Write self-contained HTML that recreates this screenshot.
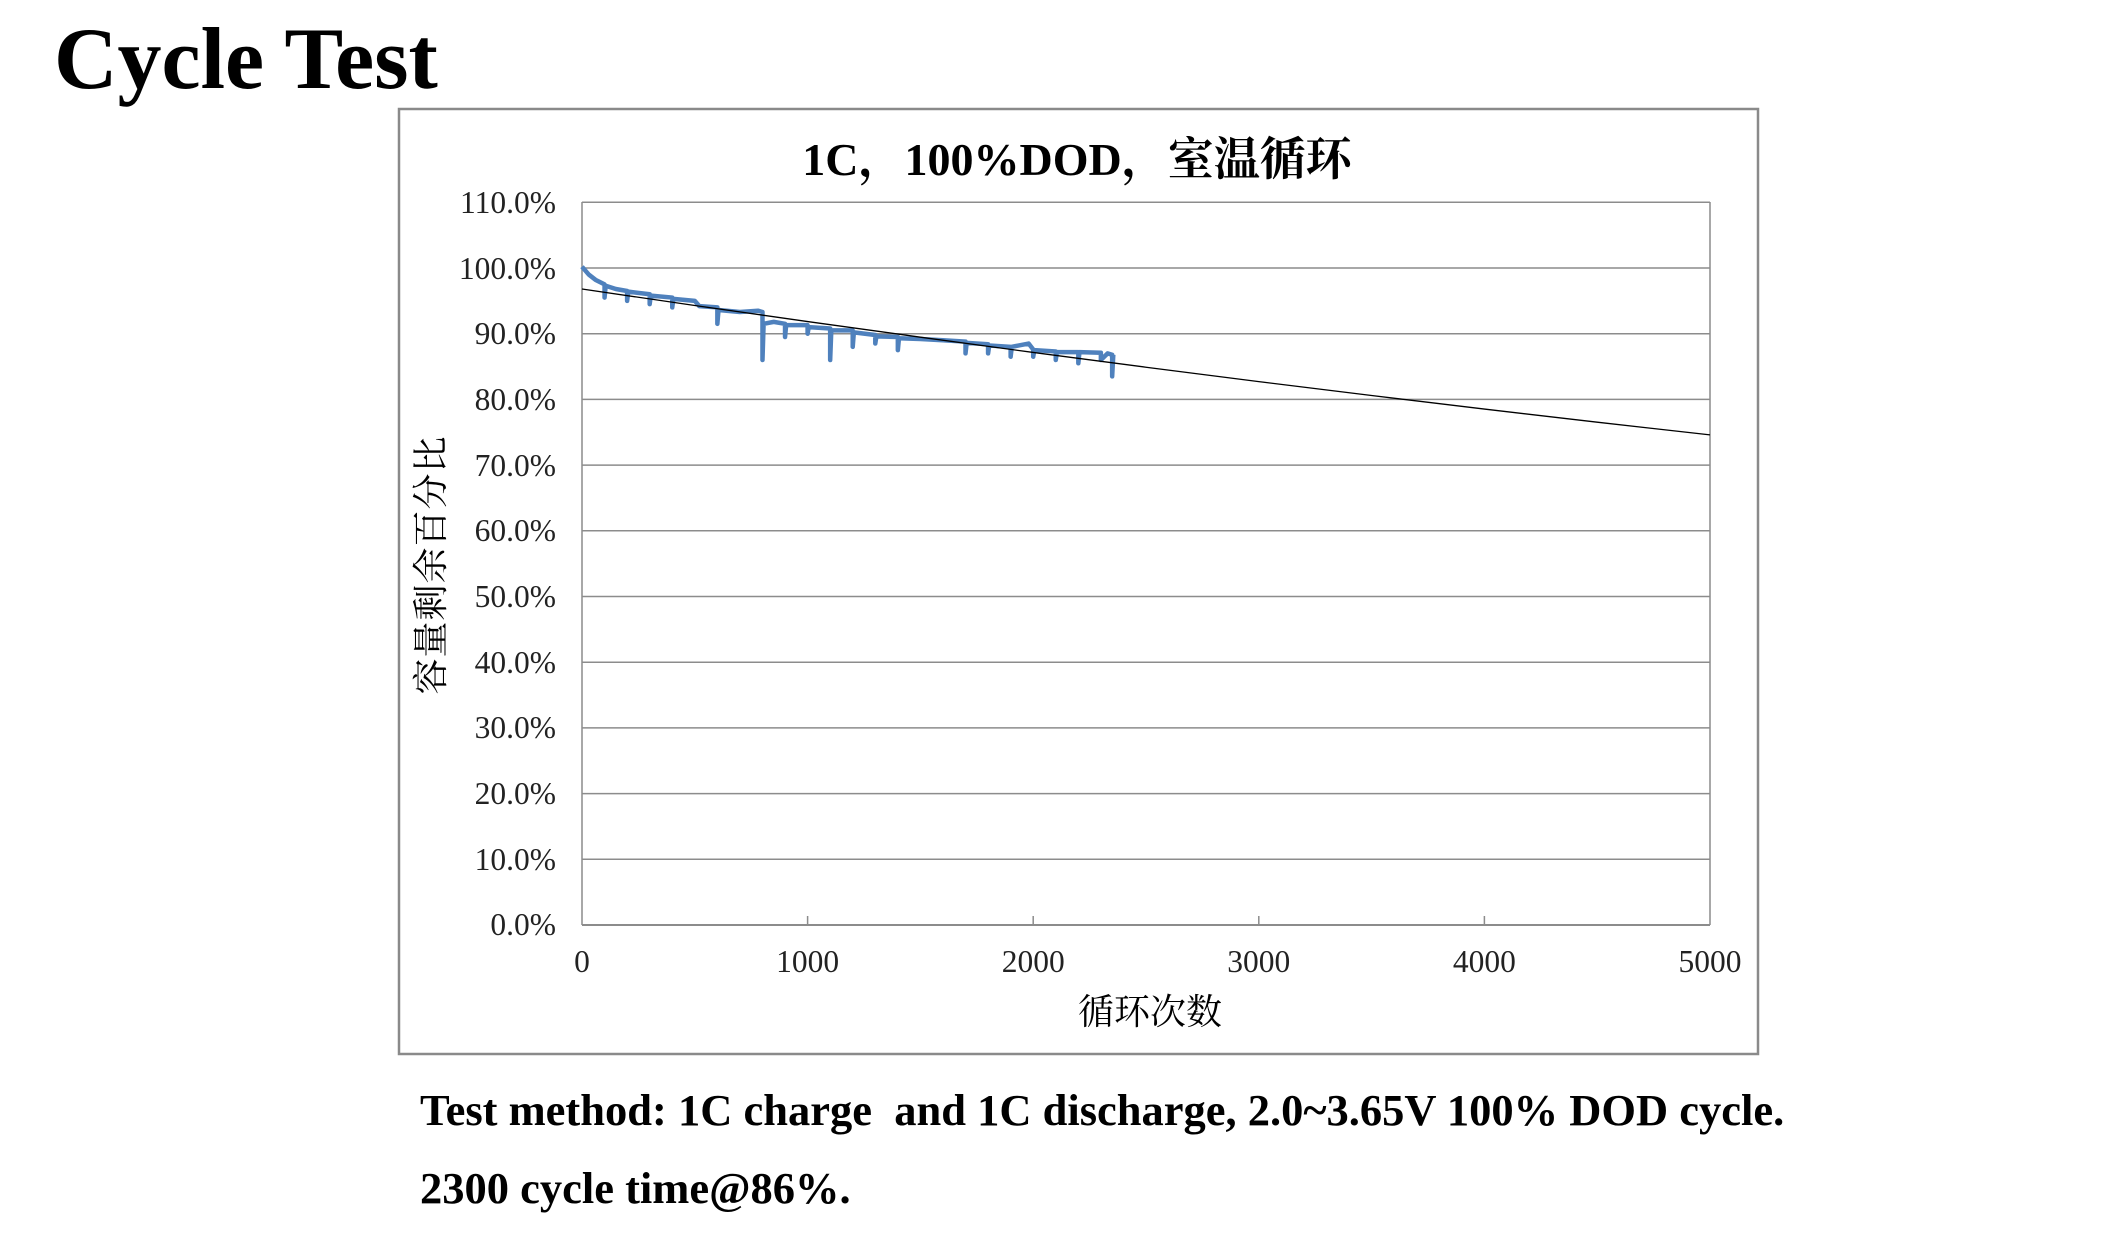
<!DOCTYPE html>
<html><head><meta charset="utf-8">
<style>
html,body{margin:0;padding:0;background:#fff;}
body{width:2116px;height:1242px;position:relative;overflow:hidden;font-family:"Liberation Serif","Noto Serif CJK SC",serif;}
.t{position:absolute;white-space:nowrap;}
</style></head><body>
<div class="t" style="left:54px;top:10px;font-size:88px;font-weight:bold;line-height:100px;">Cycle Test</div>
<svg width="2116" height="1242" style="position:absolute;left:0;top:0">
<rect x="399" y="109" width="1359" height="945" fill="#fff" stroke="#8a8a8a" stroke-width="2.5"/>
<g stroke="#8c8c8c" stroke-width="1.5">
<line x1="582" y1="202.3" x2="1710" y2="202.3"/>
<line x1="582" y1="268" x2="1710" y2="268"/>
<line x1="582" y1="333.7" x2="1710" y2="333.7"/>
<line x1="582" y1="399.4" x2="1710" y2="399.4"/>
<line x1="582" y1="465.1" x2="1710" y2="465.1"/>
<line x1="582" y1="530.8" x2="1710" y2="530.8"/>
<line x1="582" y1="596.5" x2="1710" y2="596.5"/>
<line x1="582" y1="662.2" x2="1710" y2="662.2"/>
<line x1="582" y1="727.9" x2="1710" y2="727.9"/>
<line x1="582" y1="793.6" x2="1710" y2="793.6"/>
<line x1="582" y1="859.3" x2="1710" y2="859.3"/>
<line x1="582" y1="202" x2="582" y2="925"/>
<line x1="1710" y1="202" x2="1710" y2="925"/>
<line x1="582" y1="925" x2="1710" y2="925" stroke-width="2"/>
<line x1="807.6" y1="925" x2="807.6" y2="916"/>
<line x1="1033.2" y1="925" x2="1033.2" y2="916"/>
<line x1="1258.8" y1="925" x2="1258.8" y2="916"/>
<line x1="1484.4" y1="925" x2="1484.4" y2="916"/>
</g>
<g transform="translate(582,925) scale(0.2256,-6.57)">
<polyline vector-effect="non-scaling-stroke" fill="none" stroke="#4f81bd" stroke-width="4.5" stroke-linejoin="round" points="0,100.2 30,99 60,98.2 100,97.5 100,95.5 105,97.3 150,96.8 200,96.5 200,95 205,96.4 300,96 300,94.5 305,95.8 400,95.5 400,94 405,95.3 500,95 520,94.2 600,94 600,91.5 605,93.6 700,93.3 780,93.5 800,93.3 800,86 805,91.5 850,91.8 900,91.5 900,89.5 905,91.3 1000,91.3 1000,90 1005,91 1100,90.8 1100,86 1105,90.5 1200,90.5 1200,88 1205,90.2 1300,89.8 1300,88.5 1305,89.6 1400,89.5 1400,87.5 1405,89.3 1500,89.2 1600,89 1700,88.8 1700,87 1705,88.6 1800,88.4 1800,87 1805,88.2 1900,88 1900,86.5 1905,88 1980,88.5 2000,87.6 2000,86.5 2005,87.5 2100,87.3 2100,86 2105,87.2 2200,87.2 2200,85.5 2205,87.2 2300,87.1 2300,86 2330,87 2350,86.8 2350,83.5 2355,86.8"/>
<polyline vector-effect="non-scaling-stroke" fill="none" stroke="#000" stroke-width="1.3" points="0,96.8 500,94.29 1000,91.85 1500,89.47 2000,87.15 2500,84.9 3000,82.71 3500,80.59 4000,78.53 4500,76.53 5000,74.6"/>
</g>
<g font-family="Liberation Serif, serif" font-size="31.5" text-anchor="end" fill="#222">
<text x="556" y="213">110.0%</text>
<text x="556" y="279">100.0%</text>
<text x="556" y="344">90.0%</text>
<text x="556" y="410">80.0%</text>
<text x="556" y="476">70.0%</text>
<text x="556" y="541">60.0%</text>
<text x="556" y="607">50.0%</text>
<text x="556" y="673">40.0%</text>
<text x="556" y="738">30.0%</text>
<text x="556" y="804">20.0%</text>
<text x="556" y="870">10.0%</text>
<text x="556" y="935">0.0%</text>
</g>
<g font-family="Liberation Serif, serif" font-size="31.5" text-anchor="middle" fill="#222">
<text x="582" y="972">0</text>
<text x="807.6" y="972">1000</text>
<text x="1033.2" y="972">2000</text>
<text x="1258.8" y="972">3000</text>
<text x="1484.4" y="972">4000</text>
<text x="1710" y="972">5000</text>
</g>
<text x="1077" y="175" text-anchor="middle" font-family="Liberation Serif, Noto Serif CJK SC, serif" font-size="46" font-weight="bold">1C，100%DOD，室温循环</text>
<text x="1150" y="1024" text-anchor="middle" font-family="Liberation Serif, Noto Serif CJK SC, serif" font-size="36">循环次数</text>
<text transform="translate(443,565) rotate(-90)" text-anchor="middle" font-family="Liberation Serif, Noto Serif CJK SC, serif" font-size="36" letter-spacing="1">容量剩余百分比</text>
</svg>
<div class="t" style="left:420px;top:1084px;font-size:44.5px;font-weight:bold;">Test method: 1C charge&nbsp; and 1C discharge, 2.0~3.65V 100% DOD cycle.</div>
<div class="t" style="left:420px;top:1162px;font-size:44.5px;font-weight:bold;">2300 cycle time@86%.</div>
</body></html>
